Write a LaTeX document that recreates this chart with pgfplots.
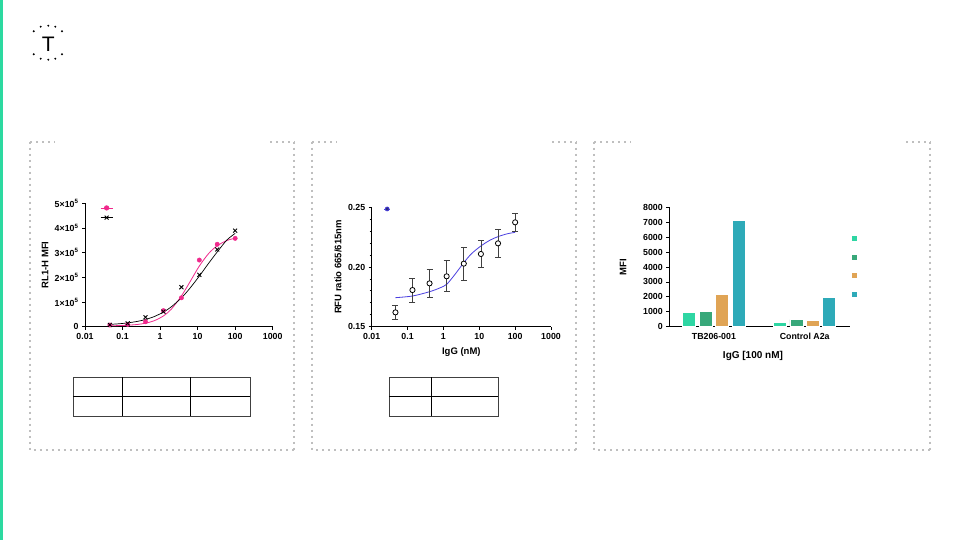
\documentclass[border=0pt]{standalone}
\usepackage{fontspec}
\setmainfont{Liberation Sans}
\usepackage{pgfplots}
\pgfplotsset{compat=1.18}
\definecolor{slidegreen}{HTML}{2CD9A0}
\definecolor{pinkc}{HTML}{F0288C}
\definecolor{bluec}{HTML}{4A3FE0}
\definecolor{navyc}{HTML}{2A2A80}
\definecolor{barA}{HTML}{2ED6A3}
\definecolor{barB}{HTML}{38A87A}
\definecolor{barC}{HTML}{E0A455}
\definecolor{barD}{HTML}{2EAAB8}
\pgfplotsset{
 slide/.style={
  scale only axis, axis lines=left, axis line style={-, line width=0.9pt, black},
  tick align=outside, major tick length=3pt, minor tick length=2pt,
  tick style={black, line width=0.8pt},
  /pgf/number format/assume math mode=true,
  /pgf/number format/1000 sep={},
  scaled ticks=false,
  tick label style={font=\fontsize{8.8}{10}\selectfont\bfseries},
  label style={font=\fontsize{9.5}{11}\selectfont\bfseries},
  clip=false,
 }
}
\begin{document}
\begin{tikzpicture}[x=1pt,y=1pt]
\path[fill=white, use as bounding box] (0,0) rectangle (960,540);
\fill[slidegreen] (0,0) rectangle (3,540);
% logo
\foreach \p in {(40.7,513.3),(48.3,514.3),(55.3,513.3),(33.7,508.7),(62,508.7),(33.7,485.7),(62,485.7),(40.7,481.3),(48.3,480.3),(55.3,481.3)}
  \fill[black] \p circle (1.1);
\node[font=\fontsize{21}{22}\selectfont, inner sep=0pt] at (48.3,495.3) {T};
% dotted panels
\tikzset{dotb/.style={draw=black!25, line width=1.6pt, dash pattern=on 1.6pt off 4.4pt}}
\draw[dotb] (30,398) -- (30,90) -- (294,90);
\draw[dotb] (294,398) -- (294,90);
\draw[dotb] (30,398) -- (55,398);
\draw[dotb] (270,398) -- (295,398);
\draw[dotb] (312,398) -- (312,90) -- (576,90);
\draw[dotb] (576,398) -- (576,90);
\draw[dotb] (312,398) -- (337,398);
\draw[dotb] (552,398) -- (577,398);
\draw[dotb] (594,398) -- (594,90) -- (930,90);
\draw[dotb] (930,398) -- (930,90);
\draw[dotb] (594,398) -- (631,398);
\draw[dotb] (906,398) -- (931,398);
% tables
\draw[black!75, line width=0.8pt] (73.3,162.7) rectangle (250,124);
\draw[black, line width=0.7pt] (73.3,143.3) -- (250,143.3) (122.3,162.7) -- (122.3,124) (190,162.7) -- (190,124);
\draw[black!75, line width=0.8pt] (389.3,162.7) rectangle (498.3,124);
\draw[black, line width=0.7pt] (389.3,143.3) -- (498.3,143.3) (431.7,162.7) -- (431.7,124);

% ---------- Panel 1 ----------
\begin{axis}[slide, at={(85pt,213.3pt)}, anchor=south west, width=187.7pt, height=123.4pt,
 xmode=log, xmin=0.01, xmax=1000, ymin=0, ymax=500000,
 xtick={0.01,0.1,1,10,100,1000}, xticklabels={0.01,0.1,1,10,100,1000}, xminorticks=false,
 ytick={0,100000,200000,300000,400000,500000},
 yticklabels={0,1×10\textsuperscript{5},2×10\textsuperscript{5},3×10\textsuperscript{5},4×10\textsuperscript{5},5×10\textsuperscript{5}},
 ylabel={RL1-H MFI}, ylabel style={at={(axis description cs:-0.213,0.5)}, anchor=center},
 legend style={at={(0.08,0.982)}, anchor=north west, draw=none, fill=none, inner sep=0pt,
   row sep=5.5pt, nodes={inner sep=0pt, outer sep=0pt}},
 legend image code/.code={\draw[mark repeat=2, mark phase=2, #1] plot coordinates {(0pt,0pt) (6pt,0pt) (12pt,0pt)};},
]
\addlegendimage{pinkc, line width=0.8pt, mark=*, mark size=2.2pt, mark options={fill=pinkc, draw=pinkc}}
\addlegendentry{\mbox{}}
\addlegendimage{black, line width=0.7pt, mark=x, mark size=2.8pt, mark options={black, line width=0.9pt}}
\addlegendentry{\mbox{}}
\addplot[pinkc, line width=0.8pt, smooth, forget plot] coordinates {
(0.046,3750) (0.08,4500) (0.137,5900) (0.25,9100) (0.41,14200) (0.7,24300) (1.23,43700) (2,71300) (3.7,124500) (6,177000) (11.1,245700) (20,297800) (33.3,327800) (60,349300) (100,358300)};
\addplot[black, line width=0.7pt, smooth, forget plot] coordinates {
(0.046,9400) (0.08,11800) (0.137,15400) (0.25,21600) (0.41,29200) (0.7,41100) (1.23,59200) (2,80700) (3.7,117000) (6,152700) (11.1,205000) (20,258600) (33.3,303000) (60,351000) (100,378000)};
\addplot[only marks, mark=*, mark size=2.2pt, mark options={fill=pinkc, draw=pinkc}, forget plot] coordinates {
(0.046,6800) (0.137,9500) (0.41,20000) (1.23,65000) (3.7,117000) (11.1,270000) (33.3,334000) (100,358000)};
\addplot[only marks, mark=x, mark size=2.8pt, mark options={black, line width=0.9pt}, forget plot] coordinates {
(0.046,7000) (0.137,13500) (0.41,38000) (1.23,61000) (3.7,160000) (11.1,210000) (33.3,313000) (100,389000)};
\end{axis}

% ---------- Panel 2 ----------
\begin{axis}[slide, at={(371.7pt,213.3pt)}, anchor=south west, width=179.3pt, height=119.4pt,
 xmode=log, xmin=0.01, xmax=1000, ymin=0.15, ymax=0.25,
 xtick={0.01,0.1,1,10,100,1000}, xticklabels={0.01,0.1,1,10,100,1000}, xminorticks=false,
 ytick={0.15,0.20,0.25}, yticklabels={0.15,0.20,0.25}, minor y tick num=4,
 xlabel={IgG (nM)}, xlabel style={at={(axis description cs:0.5,-0.209)}, anchor=center},
 ylabel={RFU ratio 665/615nm}, ylabel style={at={(axis description cs:-0.188,0.5)}, anchor=center},
 legend style={at={(0.089,0.986)}, anchor=center, draw=none, fill=none, inner sep=0pt,
   nodes={inner sep=0pt, outer sep=0pt}},
 legend image code/.code={\draw[mark repeat=2, mark phase=2, #1] plot coordinates {(0pt,0pt) (3pt,0pt) (6pt,0pt)};},
]
\addlegendimage{bluec, line width=0.7pt, mark=*, mark size=2pt, mark options={fill=navyc, draw=bluec}}
\addlegendentry{\mbox{}}
\addplot[bluec, line width=0.8pt, smooth, forget plot] coordinates {
(0.046,0.1743) (0.137,0.1757) (0.41,0.1793) (0.8,0.1825) (1.23,0.1855) (2,0.1930) (3.7,0.2036) (6,0.2110) (11.1,0.2176) (20,0.2225) (33.3,0.2254) (60,0.2278) (100,0.2290)};
\addplot[only marks, mark=*, mark size=2.6pt, mark options={fill=white, draw=black, line width=0.8pt}, forget plot,
  error bars/.cd, y dir=both, y explicit, error bar style={black!75, line width=0.8pt},
  error mark options={black!75, line width=0.8pt, rotate=90, mark size=3pt}]
 table[x=x, y=y, y error=e] {
x y e
0.046 0.1620 0.0060
0.137 0.1807 0.0100
0.41 0.1863 0.0120
1.23 0.1922 0.0130
3.7 0.2028 0.0140
11.1 0.2109 0.0110
33.3 0.2198 0.0116
100 0.2374 0.0077
};
\end{axis}

% ---------- Panel 3 ----------
\begin{axis}[slide, at={(669.3pt,213.3pt)}, anchor=south west, width=180.7pt, height=119.4pt,
 xmin=0, xmax=180.7, ymin=0, ymax=8000,
 ytick={0,1000,2000,3000,4000,5000,6000,7000,8000},
 xtick={44.6,135.4}, xticklabels={TB206-001,Control A2a}, xtick style={draw=none},
 xlabel={IgG [100 nM]}, xlabel style={at={(axis description cs:0.463,-0.243)}, anchor=center, font=\fontsize{10}{12}\selectfont\bfseries},
 ylabel={MFI}, ylabel style={at={(axis description cs:-0.256,0.5)}, anchor=center},
 legend style={at={(1.0094,0.761)}, anchor=north west, draw=none, fill=none, inner sep=0pt,
   row sep=13.5pt, nodes={inner sep=0pt, outer sep=0pt}},
 legend image code/.code={\draw[#1, draw=none] (0pt,-2.5pt) rectangle (5pt,2.5pt);},
]
\addplot[ybar, bar width=13, bar shift=0pt, fill=barA, draw=white, line width=0.5pt] coordinates {(19.9,960) (110.7,270)};
\addlegendentry{\mbox{}}
\addplot[ybar, bar width=13, bar shift=0pt, fill=barB, draw=white, line width=0.5pt] coordinates {(36.2,1030) (127,470)};
\addlegendentry{\mbox{}}
\addplot[ybar, bar width=13, bar shift=0pt, fill=barC, draw=white, line width=0.5pt] coordinates {(52.9,2190) (143.2,430)};
\addlegendentry{\mbox{}}
\addplot[ybar, bar width=13, bar shift=0pt, fill=barD, draw=white, line width=0.5pt] coordinates {(69.5,7110) (159.7,1970)};
\addlegendentry{\mbox{}}
\end{axis}
\end{tikzpicture}
\end{document}
